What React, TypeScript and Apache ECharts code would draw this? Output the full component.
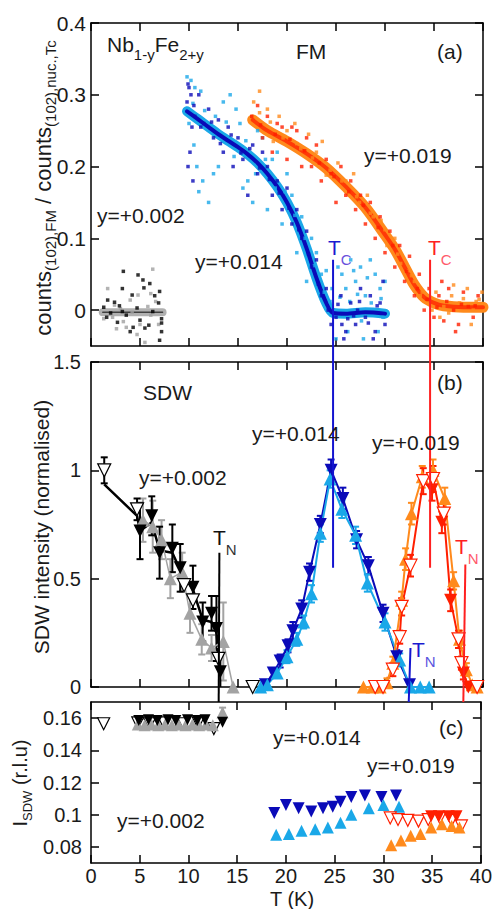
import React, { useEffect, useRef } from 'react';
import * as echarts from 'echarts';

const FONT = '"Liberation Sans", Arial, Helvetica, sans-serif';
const TXT = '#1a1a1a';

const C_BLACK = '#000000';
const C_GREY = '#a3a3a3';
const C_DBLUE = '#0a0ab8';
const C_LBLUE = '#1aa8e8';
const C_RED = '#ff1f00';
const C_ORANGE = '#ff8a1c';

// axes
const X_MIN = 0, X_MAX = 40, X_STEP = 5;
const A_TICKS = [0, 0.1, 0.2, 0.3, 0.4];
const C_TICKS = [0.08, 0.1, 0.12, 0.14, 0.16];

// ---------- panel (a) : FM intensity ----------
const a002Band: [number, number][] = [[1.2, -0.003], [7.3, -0.003]];
const a002BlackPts: [number, number][] = [[3.3,0.054],[4.8,0.049],[5.3,0.042],[6.0,0.037],[3.2,0.03],[5.4,0.031],[4.2,0.021],[7.0,0.026],[1.7,0.014],[2.4,0.011],[6.9,0.01],[1.6,-0.01],[2.7,-0.017],[3.6,-0.007],[5.0,-0.014],[7.2,-0.012],[7.2,-0.018],[4.3,-0.024],[5.5,-0.025],[5.9,-0.021],[7.2,-0.03],[7.0,-0.042],[3.2,-0.002],[6.3,-0.002],[2.0,-0.004],[4.7,0.003],[6.5,0.02],[2.9,0.006],[4.0,-0.03],[1.3,0.004]];
const a002GreyPts: [number, number][] = [[6.3,0.057],[1.7,0.03],[4.8,0.021],[4.0,0.014],[6.1,0.023],[6.6,0.012],[2.4,0.007],[1.3,-0.012],[2.2,-0.01],[3.3,-0.016],[3.6,-0.024],[5.0,-0.02],[6.1,-0.007],[4.7,-0.034],[2.6,-0.026],[4.2,-0.003],[5.8,0.005],[3.0,0.002],[6.9,-0.02],[5.5,-0.045]];

const a014Band: [number, number][] = [[9.8,0.277],[11,0.265],[12,0.255],[13,0.245],[14,0.236],[15,0.227],[16,0.217],[17,0.205],[18,0.19],[19,0.172],[20,0.15],[21,0.122],[22,0.086],[23,0.045],[24,0.01],[24.7,-0.004],[26,-0.005],[28,-0.003],[30,-0.005]];
const a014DarkPts: [number, number][] = [[9.9,0.315],[10,0.31],[10.2,0.3],[9.8,0.29],[10.5,0.285],[11,0.3],[10.3,0.255],[10.1,0.22],[9.9,0.2],[10.4,0.18],[11.5,0.26],[12,0.28],[12.5,0.24],[13,0.265],[13.5,0.22],[14,0.255],[14.5,0.2],[15,0.24],[15.5,0.21],[16,0.16],[16.5,0.23],[17,0.19],[17.5,0.22],[18,0.2],[18.5,0.16],[19,0.18],[19.5,0.14],[20,0.17],[20.5,0.12],[21,0.14],[21.5,0.1],[22,0.11],[22.5,0.06],[23,0.07],[23.5,0.02],[24,0.03],[24.5,-0.02],[25,-0.01],[25.5,0.02],[26,-0.03],[26.5,0.01],[27,-0.02],[27.5,0.03],[28,-0.01],[28.5,0.02],[29,-0.03],[29.5,0.01],[30,-0.02],[25.8,-0.04],[27.2,0.0],[28.8,-0.04],[29.8,0.04],
  [10.6,0.27],[11.2,0.255],[12.3,0.262],[13.2,0.232],[14.3,0.244],[15.3,0.219],[16.2,0.225],[17.2,0.198],[18.2,0.182],[19.2,0.163],[20.2,0.142],[21.2,0.112],[22.2,0.078],[23.2,0.036],[24.2,0.0],[25.2,0.008],[26.2,-0.012],[27.4,0.012],[28.3,-0.018],[29.2,0.006],[26.8,-0.008],[25.6,-0.02]];
const a014LightPts: [number, number][] = [[9.8,0.325],[10.2,0.32],[10.6,0.31],[11.2,0.305],[10,0.26],[10.5,0.23],[10.8,0.2],[11.4,0.18],[11,0.165],[12,0.15],[12.5,0.19],[13,0.2],[13.5,0.29],[14.2,0.3],[14.8,0.28],[15.2,0.26],[15.5,0.17],[16,0.18],[16.5,0.15],[17,0.25],[17.5,0.24],[18,0.14],[18.5,0.21],[19,0.22],[19.5,0.12],[20,0.19],[20.5,0.16],[21,0.08],[21.5,0.13],[22,0.04],[22.5,0.1],[23,0.08],[23.5,0.05],[24,0.055],[24.6,0.03],[25.2,0.06],[25.6,0.05],[26,0.03],[26.5,0.07],[27,0.04],[27.5,0.06],[28,0.02],[28.5,0.07],[29,0.05],[29.5,0.03],[30,0.04],[25,-0.04],[26.2,-0.03],[27.8,-0.04],[29.3,-0.03],[28.2,0.045],[26.8,0.055],
  [10.4,0.288],[11.6,0.278],[12.7,0.27],[13.8,0.262],[14.6,0.214],[15.8,0.236],[16.8,0.19],[17.8,0.21],[18.8,0.17],[19.8,0.165],[20.8,0.132],[21.8,0.1],[22.8,0.062],[23.8,0.025],[24.4,0.012],[25.4,0.018],[26.4,0.012],[27.2,0.022],[28.6,0.01],[29.6,0.016],[27.6,-0.015],[29.8,-0.01]];

const a019Band: [number, number][] = [[16.5,0.265],[18,0.25],[20,0.235],[22,0.218],[24,0.198],[26,0.172],[28,0.143],[30,0.105],[31,0.085],[32,0.06],[33,0.035],[34,0.018],[35,0.01],[36,0.006],[38,0.004],[40,0.004]];
const a019RedPts: [number, number][] = [[16.4,0.27],[17,0.285],[17.5,0.24],[18,0.27],[18.5,0.22],[19,0.26],[19.5,0.255],[20,0.21],[20.5,0.255],[21,0.25],[21.5,0.2],[22,0.24],[22.5,0.2],[23,0.23],[23.5,0.18],[24,0.21],[24.5,0.19],[25,0.15],[25.5,0.2],[26,0.16],[26.5,0.18],[27,0.14],[27.5,0.16],[28,0.12],[28.5,0.15],[29,0.1],[29.5,0.13],[30,0.08],[30.5,0.11],[31,0.06],[31.5,0.09],[32,0.04],[32.5,0.075],[33,0.02],[33.5,0.05],[34,0.0],[34.5,0.03],[35,-0.01],[35.5,0.02],[36,-0.015],[36.5,0.03],[37,0.0],[37.5,-0.02],[38,0.025],[38.5,0.005],[39,-0.01],[39.5,0.02],[35.8,0.04],[37.2,-0.03],
  [17.3,0.258],[18.8,0.245],[20.3,0.238],[21.8,0.222],[23.3,0.205],[24.8,0.186],[26.3,0.165],[27.8,0.146],[29.3,0.115],[30.8,0.09],[32.2,0.054],[33.3,0.03],[34.3,0.015],[35.3,0.004],[36.3,0.012],[37.8,0.008],[39.2,0.006]];
const a019OrangePts: [number, number][] = [[16.6,0.29],[17.2,0.275],[18,0.28],[18.6,0.235],[19.2,0.27],[20,0.25],[20.8,0.26],[21.4,0.225],[22.2,0.245],[23,0.22],[23.6,0.235],[24.4,0.195],[25.2,0.205],[26,0.18],[26.8,0.19],[27.4,0.15],[28.2,0.16],[28.8,0.13],[29.6,0.125],[30.2,0.09],[31,0.1],[31.6,0.065],[32.4,0.055],[33,0.04],[33.8,0.025],[34.4,0.01],[35.2,0.025],[36,0.005],[36.8,0.02],[37.6,0.01],[38.4,0.03],[39,0.0],[39.6,0.015],[39.9,0.025],[35.6,-0.01],[37,0.035],[38.8,-0.02],[17.2,0.305],
  [18.3,0.262],[19.6,0.24],[21,0.232],[22.6,0.212],[24,0.188],[25.6,0.18],[27.1,0.158],[28.5,0.135],[30,0.112],[31.3,0.078],[32.7,0.048],[33.6,0.02],[34.8,0.0],[36.5,-0.004],[38,0.016],[39.3,0.012]];

// ---------- panel (b) : SDW intensity ----------
const b002Line: [number, number][] = [[1.35,0.935],[4.7,0.79],[5.0,0.72],[6.2,0.76],[7.0,0.63],[8.3,0.62],[9.1,0.54],[10.4,0.45],[11.4,0.31],[12.3,0.3],[12.8,0.25],[13.2,0.07]];
const b002Down: [number, number][] = [[5.0,0.72],[6.2,0.79],[7.0,0.62],[8.3,0.64],[9.1,0.55],[10.4,0.46],[11.4,0.30],[12.3,0.34],[12.8,0.27],[13.2,0.07]];
const b002DownErr = [0.13,0.09,0.12,0.11,0.11,0.1,0.09,0.08,0.15,0.08];
const b002Up: [number, number][] = [[5.3,0.77],[6.3,0.74],[7.2,0.68],[8.1,0.50],[9.3,0.53],[10.1,0.34],[11.3,0.22],[12.3,0.18],[13.5,0.21],[14.5,0.0]];
const b002UpErr = [0.1,0.12,0.09,0.09,0.09,0.09,0.07,0.06,0.18,0];
const b002Open: [number, number][] = [[1.35,1.0],[4.7,0.82],[9.5,0.47],[10.4,0.40],[13.0,0.13],[16.5,0.0]];
const b002OpenErr = [0.06,0.05,0,0,0,0];

const b014Down: [number, number][] = [[17.8,0.01],[18.6,0.065],[19.3,0.12],[20.1,0.19],[20.6,0.26],[21.5,0.36],[22.3,0.53],[23.4,0.75],[24.5,1.0],[25.7,0.87],[27.1,0.68],[28.3,0.56],[29.8,0.34],[31.2,0.14],[32.5,0.01]];
const b014DownErr = [0,0.02,0.03,0.03,0.04,0.04,0.04,0.04,0.05,0.05,0.04,0.04,0.04,0.03,0];
const b014Up: [number, number][] = [[17.3,0.0],[18.0,0.01],[19.0,0.065],[20.0,0.14],[21.0,0.22],[21.7,0.30],[22.5,0.43],[23.4,0.71],[24.4,0.96],[25.6,0.82],[27.0,0.70],[28.2,0.48],[30.0,0.30],[31.5,0.125],[32.6,0.0],[33.6,0.0],[34.5,0.0]];
const b014UpErr = [0,0,0,0.03,0.03,0.03,0.04,0.04,0.04,0.04,0.04,0.04,0.04,0.03,0,0,0];

const b019Up: [number, number][] = [[27.8,0.0],[28.7,0.0],[29.5,0.0],[30.2,0.02],[30.8,0.11],[31.7,0.40],[32.1,0.59],[32.7,0.80],[33.8,0.97],[34.9,1.0],[36.1,0.87],[37.0,0.49],[37.6,0.22],[38.3,0.08],[38.9,0.01],[39.4,0.0]];
const b019UpErr = [0,0,0,0.02,0.03,0.04,0.05,0.05,0.05,0.05,0.05,0.04,0.04,0.03,0,0];
const b019Down: [number, number][] = [[34.8,0.91],[35.8,0.76],[36.7,0.40],[38.0,0.065],[38.5,0.0]];
const b019DownErr = [0.05,0.05,0.05,0.03,0];
const b019Open: [number, number][] = [[29.0,0.0],[29.8,0.0],[30.8,0.08],[31.5,0.23],[31.7,0.37],[32.6,0.56],[33.9,0.95],[34.9,0.96],[36.0,0.80],[37.5,0.22],[37.8,0.11],[39.4,0.0]];
const b019OpenErr = [0,0,0.03,0.03,0.04,0.05,0.06,0.06,0.05,0.04,0.03,0];

// ---------- panel (c) : incommensurability ----------
const c002Down: [number, number][] = [[4.9,0.1585],[5.9,0.159],[6.8,0.1585],[7.9,0.159],[8.7,0.1585],[9.9,0.159],[10.9,0.1585],[11.7,0.159],[13.5,0.1575]];
const c002Up: [number, number][] = [[4.8,0.156],[5.5,0.1555],[6.2,0.156],[6.9,0.1555],[7.6,0.156],[8.3,0.1555],[9.0,0.156],[9.7,0.1555],[10.4,0.156],[11.1,0.1555],[11.8,0.156],[12.5,0.1555],[13.5,0.1635]];
const c002UpErr = [0,0,0,0,0,0,0,0,0,0,0,0,0.003];
const c002Open: [number, number][] = [[1.3,0.1565],[4.8,0.157],[6.0,0.1565],[7.5,0.157],[9.5,0.1565],[11.0,0.157],[12.6,0.1535]];
const c014Down: [number, number][] = [[18.8,0.101],[20.0,0.106],[21.3,0.104],[22.6,0.102],[23.8,0.104],[24.8,0.105],[25.6,0.108],[26.7,0.111],[28.1,0.112],[29.8,0.111],[31.3,0.112]];
const c014Up: [number, number][] = [[19.0,0.0875],[20.3,0.088],[21.6,0.09],[23.0,0.091],[24.3,0.092],[25.6,0.095],[26.7,0.1],[28.5,0.104],[30.0,0.106],[31.6,0.105]];
const c019Open: [number, number][] = [[30.7,0.098],[31.5,0.097],[32.5,0.0965],[33.6,0.096],[34.6,0.097],[35.8,0.098],[37.0,0.0965],[38.0,0.093]];
const c019Down: [number, number][] = [[34.9,0.099],[35.7,0.099],[36.7,0.099],[37.5,0.099]];
const c019Up: [number, number][] = [[30.8,0.081],[31.8,0.084],[32.8,0.087],[33.8,0.088],[34.9,0.092],[36.0,0.094],[37.0,0.093],[37.8,0.092]];

// transition temperatures (K)
const TC_014 = 24.7, TC_019 = 34.6, TN_002 = 13.1, TN_014 = 32.6, TN_019 = 38.2;

const GRIDS = [
  { left: 91, top: 23, width: 392, height: 323 },
  { left: 91, top: 362, width: 392, height: 325 },
  { left: 91, top: 702, width: 392, height: 161 },
];

const axisLine = { show: true, onZero: false, lineStyle: { color: '#000', width: 1.5 } };
const tickStyle = { color: '#000', width: 1.5 };

function xAxes(gi: number, showLabel: boolean) {
  const base = {
    type: 'value', gridIndex: gi, min: X_MIN, max: X_MAX, interval: X_STEP,
    axisLine, splitLine: { show: false },
    axisTick: { show: true, inside: true, length: 8, lineStyle: tickStyle },
  };
  return [
    { ...base, position: 'bottom', axisLabel: { show: showLabel, fontSize: 20, color: TXT, fontFamily: FONT, margin: 3 } },
    { ...base, position: 'top', axisLabel: { show: false } },
  ];
}

function yAxes(gi: number, extra: any, labelExtra: any) {
  const { ticks, ...rest } = extra;
  const base = {
    type: 'value', gridIndex: gi, axisLine, splitLine: { show: false }, ...rest,
  };
  const cv = ticks ? { customValues: ticks } : {};
  return [
    { ...base, position: 'left', axisTick: { show: true, inside: true, length: 8, lineStyle: tickStyle, ...cv },
      axisLabel: { show: true, fontSize: 20, color: TXT, fontFamily: FONT, ...labelExtra, ...cv } },
    { ...base, position: 'right', axisTick: { show: true, inside: true, length: 8, lineStyle: tickStyle, ...cv },
      axisLabel: { show: false } },
  ];
}

function errSeries(gi: number, pts: [number, number][], errs: number[], color: string, cap = 7) {
  return {
    type: 'custom', xAxisIndex: gi * 2, yAxisIndex: gi * 2, silent: true, z: 3, clip: true,
    data: pts.map((p, i) => [p[0], p[1], errs[i]]),
    renderItem: (_params: any, api: any) => {
      const x = api.value(0), y = api.value(1), e = api.value(2);
      if (!e) return null;
      const t = api.coord([x, y + e]);
      const b = api.coord([x, y - e]);
      const s = { stroke: color, lineWidth: 2 };
      return {
        type: 'group', children: [
          { type: 'line', shape: { x1: t[0], y1: t[1], x2: b[0], y2: b[1] }, style: s },
          { type: 'line', shape: { x1: t[0] - cap / 2, y1: t[1], x2: t[0] + cap / 2, y2: t[1] }, style: s },
          { type: 'line', shape: { x1: b[0] - cap / 2, y1: b[1], x2: b[0] + cap / 2, y2: b[1] }, style: s },
        ],
      };
    },
  };
}

function band(gi: number, pts: [number, number][], color: string, width: number, z = 2, opacity = 1) {
  return {
    type: 'line', xAxisIndex: gi * 2, yAxisIndex: gi * 2, data: pts, showSymbol: false, symbol: 'none',
    smooth: 0.3, lineStyle: { color, width, opacity, cap: 'round' }, z, silent: true,
  };
}

function dots(gi: number, pts: [number, number][], color: string, z = 3) {
  return {
    type: 'scatter', xAxisIndex: gi * 2, yAxisIndex: gi * 2, data: pts, symbol: 'rect', symbolSize: 3.5,
    itemStyle: { color }, z, silent: true,
  };
}

function tri(gi: number, pts: [number, number][], opts: { fill: string; stroke?: string; down?: boolean; line?: string; lineWidth?: number; size?: number; z?: number }) {
  return {
    type: 'line', xAxisIndex: gi * 2, yAxisIndex: gi * 2, data: pts,
    symbol: 'triangle', symbolSize: opts.size ?? 13, symbolRotate: opts.down ? 180 : 0, showAllSymbol: true,
    itemStyle: { color: opts.fill, borderColor: opts.stroke ?? opts.fill, borderWidth: opts.stroke ? 1.2 : 0 },
    lineStyle: opts.line ? { color: opts.line, width: opts.lineWidth ?? 2 } : { width: 0, opacity: 0 },
    z: opts.z ?? 4, silent: true, clip: false,
  };
}

function sub(textMain: string, textSub: string, mainColor: string, subColor: string, mainSize = 21, subSize = 15, lh = 40) {
  return {
    text: `{m|${textMain}}{s|${textSub}}`,
    rich: {
      m: { fontSize: mainSize, fontFamily: FONT, fill: mainColor, lineHeight: lh },
      s: { fontSize: subSize, fontFamily: FONT, fill: subColor, lineHeight: 12, verticalAlign: 'bottom' },
    },
  };
}

function label(x: number, y: number, text: string, size = 21, color = TXT) {
  return {
    type: 'text', x, y, z: 100, silent: true,
    style: { text, fontSize: size, fontFamily: FONT, fill: color, align: 'left', verticalAlign: 'middle', textAlign: 'left', textVerticalAlign: 'middle' },
  };
}

function richLabel(x: number, y: number, rich: any, rotation = 0, align = 'left') {
  return {
    type: 'text', x, y, rotation, z: 100, silent: true,
    style: { ...rich, align, verticalAlign: 'middle', textAlign: align, textVerticalAlign: 'middle' },
  };
}

export default function App() {
  const ref = useRef<HTMLDivElement>(null);
  useEffect(() => {
    if (!ref.current) return;
    const chart = echarts.init(ref.current, undefined, { renderer: 'svg' });
    const option: any = {
      animation: false,
      backgroundColor: '#ffffff',
      grid: GRIDS.map((g) => ({ ...g, containLabel: false, show: false })),
      xAxis: [...xAxes(0, false), ...xAxes(1, false), ...xAxes(2, true)],
      yAxis: [
        ...yAxes(0, { min: -0.05, max: 0.4, ticks: A_TICKS }, { fontSize: 21, margin: 5 }),
        ...yAxes(1, { min: 0, max: 1.5, interval: 0.5 }, { fontSize: 20, margin: 10 }),
        ...yAxes(2, { min: 0.07, max: 0.17, ticks: C_TICKS }, { fontSize: 20, margin: 9 }),
      ],
      series: [
        // panel a
        band(0, a002Band, '#b0b0b0', 8, 2),
        band(0, a002Band, '#404040', 1.5, 3),
        dots(0, a002GreyPts, '#a0a0a0'),
        dots(0, a002BlackPts, '#000000'),
        band(0, a014Band, C_LBLUE, 10, 2),
        band(0, a014Band, C_DBLUE, 4, 3),
        dots(0, a014LightPts, C_LBLUE),
        dots(0, a014DarkPts, C_DBLUE),
        band(0, a019Band, C_ORANGE, 11, 2),
        band(0, a019Band, C_RED, 4, 3, 0.75),
        dots(0, a019OrangePts, C_ORANGE),
        dots(0, a019RedPts, C_RED),
        // panel b
        errSeries(1, b002Up, b002UpErr, C_GREY),
        errSeries(1, b002Down, b002DownErr, C_BLACK),
        errSeries(1, b002Open, b002OpenErr, C_BLACK),
        { type: 'line', xAxisIndex: 2, yAxisIndex: 2, data: b002Line, showSymbol: false, symbol: 'none', lineStyle: { color: C_BLACK, width: 2.5 }, z: 3, silent: true },
        tri(1, b002Up, { fill: C_GREY, line: C_GREY, lineWidth: 1.5 }),
        tri(1, b002Down, { fill: C_BLACK, down: true }),
        tri(1, b002Open, { fill: '#ffffff', stroke: C_BLACK, down: true, z: 5 }),
        errSeries(1, b014Down, b014DownErr, C_DBLUE),
        errSeries(1, b014Up, b014UpErr, C_LBLUE),
        tri(1, b014Down, { fill: C_DBLUE, down: true, line: C_DBLUE }),
        tri(1, b014Up, { fill: C_LBLUE, line: C_LBLUE }),
        errSeries(1, b019Up, b019UpErr, C_ORANGE),
        errSeries(1, b019Down, b019DownErr, C_RED),
        errSeries(1, b019Open, b019OpenErr, C_RED),
        tri(1, b019Up, { fill: C_ORANGE, line: C_ORANGE }),
        { type: 'line', xAxisIndex: 2, yAxisIndex: 2, data: [...b019Open, ...b019Down].sort((p, q) => p[0] - q[0]), showSymbol: false, symbol: 'none', lineStyle: { color: C_RED, width: 2 }, z: 3, silent: true },
        tri(1, b019Down, { fill: C_RED, down: true }),
        tri(1, b019Open, { fill: '#ffffff', stroke: C_RED, down: true, z: 5 }),
        // panel c
        errSeries(2, c002Up, c002UpErr, C_GREY),
        tri(2, c002Up, { fill: C_GREY, size: 12 }),
        tri(2, c002Down, { fill: C_BLACK, down: true, size: 11 }),
        tri(2, c002Open, { fill: '#ffffff', stroke: C_BLACK, down: true, size: 12, z: 3 }),
        tri(2, c014Down, { fill: C_DBLUE, down: true, size: 12 }),
        tri(2, c014Up, { fill: C_LBLUE, size: 12 }),
        tri(2, c019Open, { fill: '#ffffff', stroke: C_RED, down: true, size: 12 }),
        tri(2, c019Down, { fill: C_RED, down: true, size: 12 }),
        tri(2, c019Up, { fill: C_ORANGE, size: 12 }),
      ],
    };
    chart.setOption(option);

    const px = (gi: number, x: number, y: number) => chart.convertToPixel({ gridIndex: gi } as any, [x, y]) as number[];
    const vline = (a: number[], b: number[], color: string) => ({
      type: 'line', z: 90, silent: true,
      shape: { x1: a[0], y1: a[1], x2: b[0], y2: b[1] },
      style: { stroke: color, lineWidth: 2 },
    });

    const yTitleA = {
      text: '{m|counts}{s|(102),FM}{m| / counts}{s|(102),nuc.,Tc}',
      rich: {
        m: { fontSize: 22, fontFamily: FONT, fill: TXT, lineHeight: 30 },
        s: { fontSize: 15, fontFamily: FONT, fill: TXT, lineHeight: 20, verticalAlign: 'bottom' },
      },
    };
    const yTitleC = {
      text: '{m|I}{s|SDW}{m| (r.l.u)}',
      rich: {
        m: { fontSize: 20, fontFamily: FONT, fill: TXT, lineHeight: 28 },
        s: { fontSize: 13, fontFamily: FONT, fill: TXT, lineHeight: 16, verticalAlign: 'bottom' },
      },
    };
    const nb = {
      text: '{m|Nb}{s|1-y}{m|Fe}{s|2+y}',
      rich: {
        m: { fontSize: 21, fontFamily: FONT, fill: TXT, lineHeight: 36 },
        s: { fontSize: 15, fontFamily: FONT, fill: TXT, lineHeight: 12, verticalAlign: 'bottom' },
      },
    };

    const graphics: any[] = [
      vline(px(0, TC_014, 0.07), px(1, TC_014, 0.55), '#1414d0'),
      vline(px(0, TC_019, 0.07), px(1, TC_019, 0.55), '#ff2020'),
      vline(px(1, TN_002, 0.62), px(2, TN_002, 0.17), '#000000'),
      vline(px(1, TN_014, 0.18), px(2, TN_014, 0.17), '#1414d0'),
      vline(px(1, TN_019, 0.565), px(2, TN_019, 0.17), '#ff2020'),
      richLabel(107, 44, nb),
      label(296, 51, 'FM'),
      label(437, 51, '(a)'),
      label(364, 155, 'y=+0.019'),
      label(97, 215, 'y=+0.002'),
      label(195, 261, 'y=+0.014'),
      richLabel(328, 247, sub('T', 'C', '#1a1ad0', '#6a50dc')),
      richLabel(428, 247, sub('T', 'C', '#ff2020', '#ff5a6a')),
      label(143, 392, 'SDW'),
      label(437, 382, '(b)'),
      label(252, 433, 'y=+0.014'),
      label(372, 442, 'y=+0.019'),
      label(139, 477, 'y=+0.002'),
      richLabel(213, 537, sub('T', 'N', '#111111', '#333333')),
      richLabel(412, 649, sub('T', 'N', '#1a1ad0', '#5a55e0')),
      richLabel(455, 546, sub('T', 'N', '#ff2020', '#ff5a6a')),
      label(439, 727, '(c)'),
      label(273, 737, 'y=+0.014'),
      label(367, 765, 'y=+0.019'),
      label(117, 820, 'y=+0.002'),
      richLabel(292, 899, { text: 'T (K)', fontSize: 20, fontFamily: FONT, fill: TXT, lineHeight: 20 }, 0, 'center'),
      richLabel(43, 188, yTitleA, Math.PI / 2, 'center'),
      richLabel(41, 527, { text: 'SDW intensity (normalised)', fontSize: 21, fontFamily: FONT, fill: TXT }, Math.PI / 2, 'center'),
      richLabel(20, 783, yTitleC, Math.PI / 2, 'center'),
    ];
    chart.setOption({ graphic: { elements: graphics } });

    return () => chart.dispose();
  }, []);

  return (
    <div
      ref={ref}
      style={{ position: 'fixed', left: 0, top: 0, width: 495, height: 909, background: '#fff' }}
    />
  );
}
